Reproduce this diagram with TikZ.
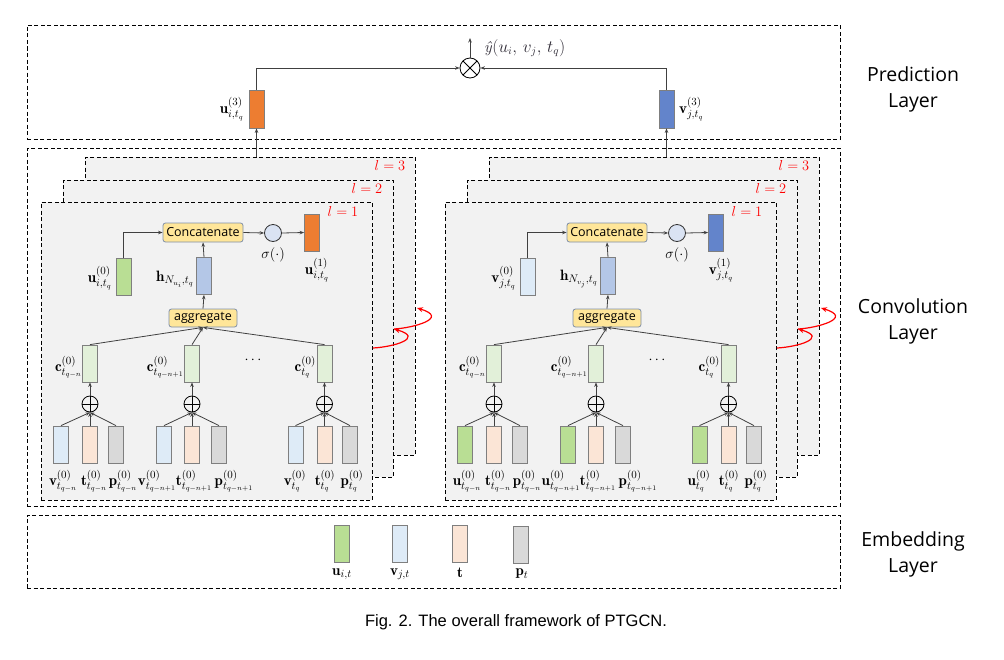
\documentclass[tikz,border=0pt]{standalone}
\usepackage{fontspec}
\setsansfont{Open Sans}
\newfontfamily\capfont{Liberation Sans}
\usetikzlibrary{arrows.meta}
\definecolor{boxgray}{HTML}{F2F2F2}
\definecolor{barline}{HTML}{7F7F7F}
\definecolor{connc}{HTML}{404040}
\definecolor{orangeB}{HTML}{ED7D31}
\definecolor{blueB}{HTML}{6384CB}
\definecolor{greenB}{HTML}{B9DE94}
\definecolor{lightblue}{HTML}{DEEBF7}
\definecolor{peach}{HTML}{FBE5D6}
\definecolor{grayB}{HTML}{D9D9D9}
\definecolor{cgreen}{HTML}{E2F0D9}
\definecolor{hblue}{HTML}{B4C7E7}
\definecolor{sigfill}{HTML}{DAE3F3}
\definecolor{catfill}{HTML}{FFE699}
\definecolor{catdraw}{HTML}{7F8FA9}
\definecolor{ydark}{HTML}{2E2A35}
\tikzset{
 layerbox/.style={draw=black, dash pattern=on 4pt off 2.5pt, line width=0.9pt, fill=boxgray, inner sep=0},
 outerbox/.style={draw=black, dash pattern=on 4pt off 2.5pt, line width=0.9pt, inner sep=0},
 bar/.style={draw=barline, line width=0.8pt, minimum width=15pt, minimum height=37pt, inner sep=0},
 lbl/.style={font=\fontsize{15}{17}\selectfont, inner sep=0},
 conn/.style={draw=connc, line width=0.8pt, -{Stealth[length=4.5pt,width=3.5pt]}},
 redarr/.style={draw=red, line width=1.2pt, -{Stealth[length=6pt,width=5pt]}},
 opbox/.style={draw=catdraw, fill=catfill, rounded corners=2.5pt, line width=0.8pt, font=\sffamily\fontsize{12.5}{14}\selectfont, inner sep=0},
 plus/.style={circle, draw=black, line width=0.8pt, minimum size=16pt, inner sep=0, path picture={\draw[line width=0.8pt] (path picture bounding box.north) -- (path picture bounding box.south) (path picture bounding box.west) -- (path picture bounding box.east);}},
 times/.style={circle, draw=black, line width=0.8pt, minimum size=20pt, inner sep=0, path picture={\draw[line width=0.8pt] (path picture bounding box.north west) -- (path picture bounding box.south east) (path picture bounding box.north east) -- (path picture bounding box.south west);}},
 sig/.style={circle, draw=black!80, fill=sigfill, line width=0.8pt, minimum size=17pt, inner sep=0},
 llab/.style={text=red, font=\fontsize{14}{16}\selectfont, inner sep=0},
 side/.style={font=\sffamily\fontsize{19.5}{26}\selectfont, align=center},
}
% #1 prefix, #2 xshift, #3 self colour, #4 out colour, #5 first bottom colour,
% #6 self label, #7 h label, #8 out label, #9 bottom letter
\newcommand{\convblk}[9]{%
\begin{scope}[xshift=#2pt]
\node[layerbox, minimum width=330pt, minimum height=298pt] (#1L3) at (250,306) {};
\node[llab] (#1l3) at (390,165) {$l=3$};
\node[layerbox, minimum width=330pt, minimum height=297pt] (#1L2) at (228,328.5) {};
\node[llab] (#1l2) at (367,188) {$l=2$};
\node[layerbox, minimum width=331pt, minimum height=298pt] (#1L1) at (206.5,351) {};
\node[llab] (#1l1) at (343,211) {$l=1$};
\node[opbox, minimum width=80pt, minimum height=19pt] (#1cat) at (203,232.5) {Concatenate};
\node[sig] (#1sig) at (273,233) {};
\node[lbl] (#1sigl) at (273,255) {$\sigma(\cdot)$};
\node[bar, fill=#4] (#1out) at (312,232.5) {};
\node[lbl] (#1outl) at (317,270) {#8};
\node[bar, fill=#3] (#1self) at (123.5,277) {};
\node[lbl, anchor=east] (#1selfl) at (112,278) {#6};
\node[bar, fill=hblue] (#1h) at (204,276) {};
\node[lbl, anchor=east] (#1hl) at (194,279) {#7};
\node[opbox, minimum width=68pt, minimum height=18pt] (#1agg) at (203,318) {aggregate};
\node[bar, fill=cgreen] (#1c1) at (90,363.5) {};
\node[bar, fill=cgreen] (#1c2) at (192,363.5) {};
\node[bar, fill=cgreen] (#1c3) at (324.5,363.5) {};
\node[lbl, anchor=east] (#1c1l) at (82,367) {$\mathbf{c}^{(0)}_{t_{q-n}}$};
\node[lbl, anchor=east] (#1c2l) at (184,367) {$\mathbf{c}^{(0)}_{t_{q-n+1}}$};
\node[lbl, anchor=east] (#1c3l) at (316,367) {$\mathbf{c}^{(0)}_{t_q}$};
\node[lbl] (#1dots) at (253,360) {$\cdots$};
\node[plus] (#1o1) at (90,404) {};
\node[plus] (#1o2) at (192,404) {};
\node[plus] (#1o3) at (324.5,404) {};
\node[bar, fill=#5] (#1a1) at (61,444.5) {};
\node[bar, fill=peach] (#1b1) at (90,444.5) {};
\node[bar, fill=grayB] (#1p1) at (116,444.5) {};
\node[bar, fill=#5] (#1a2) at (164,444.5) {};
\node[bar, fill=peach] (#1b2) at (192,444.5) {};
\node[bar, fill=grayB] (#1p2) at (219,444.5) {};
\node[bar, fill=#5] (#1a3) at (295.5,444.5) {};
\node[bar, fill=peach] (#1b3) at (324.5,444.5) {};
\node[bar, fill=grayB] (#1p3) at (350,444.5) {};
\node[lbl] (#1a1l) at (63,481) {$\mathbf{#9}^{(0)}_{t_{q-n}}$};
\node[lbl] (#1b1l) at (94,481) {$\mathbf{t}^{(0)}_{t_{q-n}}$};
\node[lbl] (#1p1l) at (123,481) {$\mathbf{p}^{(0)}_{t_{q-n}}$};
\node[lbl] (#1a2l) at (157,481) {$\mathbf{#9}^{(0)}_{t_{q-n+1}}$};
\node[lbl] (#1b2l) at (194,481) {$\mathbf{t}^{(0)}_{t_{q-n+1}}$};
\node[lbl] (#1p2l) at (234,481) {$\mathbf{p}^{(0)}_{t_{q-n+1}}$};
\node[lbl] (#1a3l) at (295,481) {$\mathbf{#9}^{(0)}_{t_q}$};
\node[lbl] (#1b3l) at (325,481) {$\mathbf{t}^{(0)}_{t_q}$};
\node[lbl] (#1p3l) at (352,481) {$\mathbf{p}^{(0)}_{t_q}$};
\draw[conn] (#1self.north) |- (#1cat.west);
\draw[conn] (#1h.north) -- (#1cat.south);
\draw[conn] (#1cat.east) -- (#1sig.west);
\draw[conn] (#1sig.east) -- (#1out.west);
\draw[conn] (#1agg.north) -- (#1h.south);
\draw[conn] (#1c1.north) -- (#1agg.south);
\draw[conn] (#1c2.north) -- (#1agg.south);
\draw[conn] (#1c3.north) -- (#1agg.south);
\draw[conn] (#1o1.north) -- (#1c1.south);
\draw[conn] (#1o2.north) -- (#1c2.south);
\draw[conn] (#1o3.north) -- (#1c3.south);
\draw[conn] (#1a1.north) -- (#1o1.south);
\draw[conn] (#1b1.north) -- (#1o1.south);
\draw[conn] (#1p1.north) -- (#1o1.south);
\draw[conn] (#1a2.north) -- (#1o2.south);
\draw[conn] (#1b2.north) -- (#1o2.south);
\draw[conn] (#1p2.north) -- (#1o2.south);
\draw[conn] (#1a3.north) -- (#1o3.south);
\draw[conn] (#1b3.north) -- (#1o3.south);
\draw[conn] (#1p3.north) -- (#1o3.south);
\coordinate (#1r0) at (373,348);
\coordinate (#1r1) at (394,329);
\coordinate (#1r2) at (417,308);
\draw[redarr] (#1r0) .. controls (393,347) and (425,338) .. (#1r1);
\draw[redarr] (#1r1) .. controls (413,328) and (450,318) .. (#1r2);
\end{scope}}
\begin{document}
\begin{tikzpicture}[x=1pt,y=-1pt]
\useasboundingbox (0,0) rectangle (1004,659);
% layer frames
\node[outerbox, minimum width=813pt, minimum height=114pt] (pred) at (433.5,82) {};
\node[outerbox, minimum width=813pt, minimum height=358pt] (conv) at (433.5,327) {};
\node[outerbox, minimum width=813pt, minimum height=73pt] (emb) at (433.5,551.5) {};
\node[side] (predl) at (913,89) {Prediction\\Layer};
\node[side] (convl) at (913,321) {Convolution\\Layer};
\node[side] (embl) at (913,554) {Embedding\\Layer};
% convolution blocks
\convblk{A}{0}{greenB}{orangeB}{lightblue}{$\mathbf{u}^{(0)}_{i,t_q}$}{$\mathbf{h}_{N_{u_i},t_q}$}{$\mathbf{u}^{(1)}_{i,t_q}$}{v}
\convblk{B}{404}{lightblue}{blueB}{greenB}{$\mathbf{v}^{(0)}_{j,t_q}$}{$\mathbf{h}_{N_{v_j},t_q}$}{$\mathbf{v}^{(1)}_{j,t_q}$}{u}
% prediction
\node[bar, fill=orangeB, minimum height=38pt] (u3) at (256.5,109) {};
\node[bar, fill=blueB, minimum height=38pt] (v3) at (666.5,109) {};
\node[lbl, anchor=east] (u3l) at (244,109) {$\mathbf{u}^{(3)}_{i,t_q}$};
\node[lbl, anchor=west] (v3l) at (679,109) {$\mathbf{v}^{(3)}_{j,t_q}$};
\node[times] (ot) at (470,68) {};
\coordinate (yout) at (470,38);
\node[anchor=west, inner sep=0, text=ydark, font=\fontsize{16}{18}\selectfont] (yl) at (484,48) {\textit{ŷ}$(u_i,\,v_j,\,t_q)$};
\draw[conn] (ot.north) -- (yout);
\draw[conn] (u3.north) |- (ot.west);
\draw[conn] (v3.north) |- (ot.east);
\draw[conn] (u3.south |- AL3.north) -- (u3.south);
\draw[conn] (v3.south |- BL3.north) -- (v3.south);
% embedding
\node[bar, fill=greenB] (e1) at (342,543.5) {};
\node[bar, fill=lightblue] (e2) at (399.5,543.5) {};
\node[bar, fill=peach] (e3) at (459.5,543.5) {};
\node[bar, fill=grayB] (e4) at (521,544.5) {};
\node[lbl] (e1l) at (342,574) {$\mathbf{u}_{i,t}$};
\node[lbl] (e2l) at (400,574) {$\mathbf{v}_{j,t}$};
\node[lbl] (e3l) at (460,573) {$\mathbf{t}$};
\node[lbl] (e4l) at (522,574) {$\mathbf{p}_{t}$};
% caption
\node[font=\capfont\fontsize{16.5}{18}\selectfont] (cap) at (516,622) {Fig. 2. The overall framework of PTGCN.};
\end{tikzpicture}
\end{document}
